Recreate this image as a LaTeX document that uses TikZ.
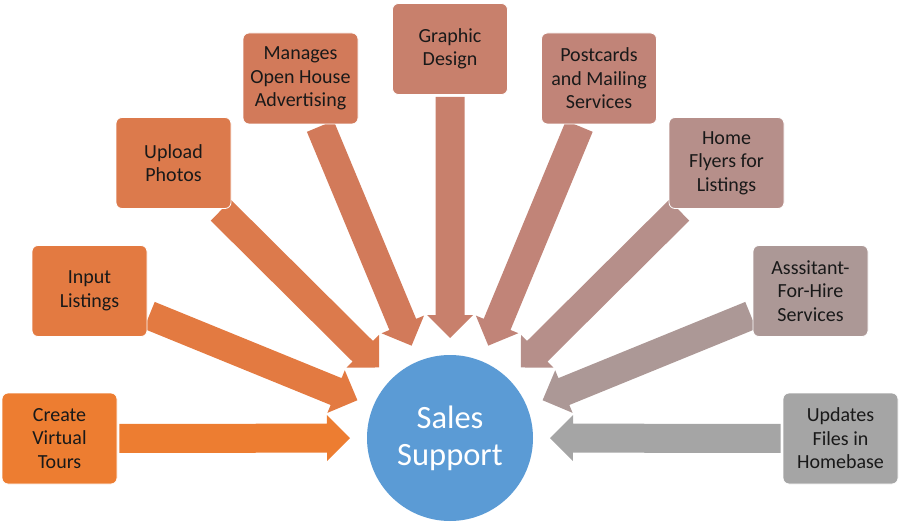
\documentclass[tikz,border=0pt]{standalone}
\usepackage{fontspec}
\setmainfont{Carlito}
\usetikzlibrary{calc}
\pgfdeclarelayer{background}
\pgfsetlayers{background,main}
\definecolor{c1}{RGB}{237,125,49}
\definecolor{c2}{RGB}{227,122,65}
\definecolor{c3}{RGB}{220,122,76}
\definecolor{c4}{RGB}{210,122,90}
\definecolor{c5}{RGB}{200,128,108}
\definecolor{c6}{RGB}{193,132,120}
\definecolor{c7}{RGB}{182,143,138}
\definecolor{c8}{RGB}{172,152,150}
\definecolor{c9}{RGB}{165,165,165}
\definecolor{hub}{RGB}{91,155,213}
\newcommand\blockarr[2]{%
  \path (#1) -- (sales) coordinate[pos=0] (#1-b);
  \coordinate (#1-s) at ($(#1-b)!2pt!(sales.center)$);
  \coordinate (#1-t) at ($(sales.center)!100pt!(#1.center)$);
  \coordinate (#1-c) at ($(#1-t)!23pt!(#1-s)$);
  \begin{pgfonlayer}{background}
  \fill[#2] ($(#1-s)!14.5pt!90:(#1-t)$) -- ($(#1-c)!14.5pt!90:(#1-t)$)
    -- ($(#1-c)!23pt!90:(#1-t)$) -- (#1-t) -- ($(#1-c)!23pt!-90:(#1-t)$)
    -- ($(#1-c)!14.5pt!-90:(#1-t)$) -- ($(#1-s)!14.5pt!-90:(#1-t)$) -- cycle;
  \end{pgfonlayer}
}
\begin{document}
\begin{tikzpicture}[x=1pt,y=-1pt,
  box/.style={rounded corners=6pt, minimum width=115pt, minimum height=91pt,
    inner sep=0pt, align=center, draw=white, line width=0.8pt,
    text=black!90, font=\fontsize{20}{23.5}\selectfont},
  hubnode/.style={circle, minimum size=166pt, inner sep=0pt, fill=hub,
    text=white, align=center, font=\fontsize{32.5}{37}\selectfont}]
\useasboundingbox (0,0) rectangle (900,524);
\node[hubnode] (sales) at (450,438) {Sales\\Support};
\node[box, fill=c1] (b1) at (59.5,438.5) {Create\\Virtual\\Tours};
\node[box, fill=c2] (b2) at (89.5,291) {Input\\Listings};
\node[box, fill=c3] (b3) at (173.5,163) {Upload\\Photos};
\node[box, fill=c4] (b4) at (300.5,78.5) {Manages\\Open House\\Advertising};
\node[box, fill=c5] (b5) at (450,49) {Graphic\\Design};
\node[box, fill=c6] (b6) at (599,78.5) {Postcards\\and Mailing\\Services};
\node[box, fill=c7] (b7) at (726.5,163) {Home\\Flyers for\\Listings};
\node[box, fill=c8] (b8) at (810.5,291) {Asssitant-\\For-Hire\\Services};
\node[box, fill=c9] (b9) at (840.5,438.5) {Updates\\Files in\\Homebase};
\blockarr{b1}{c1}
\blockarr{b2}{c2}
\blockarr{b3}{c3}
\blockarr{b4}{c4}
\blockarr{b5}{c5}
\blockarr{b6}{c6}
\blockarr{b7}{c7}
\blockarr{b8}{c8}
\blockarr{b9}{c9}
\end{tikzpicture}
\end{document}
